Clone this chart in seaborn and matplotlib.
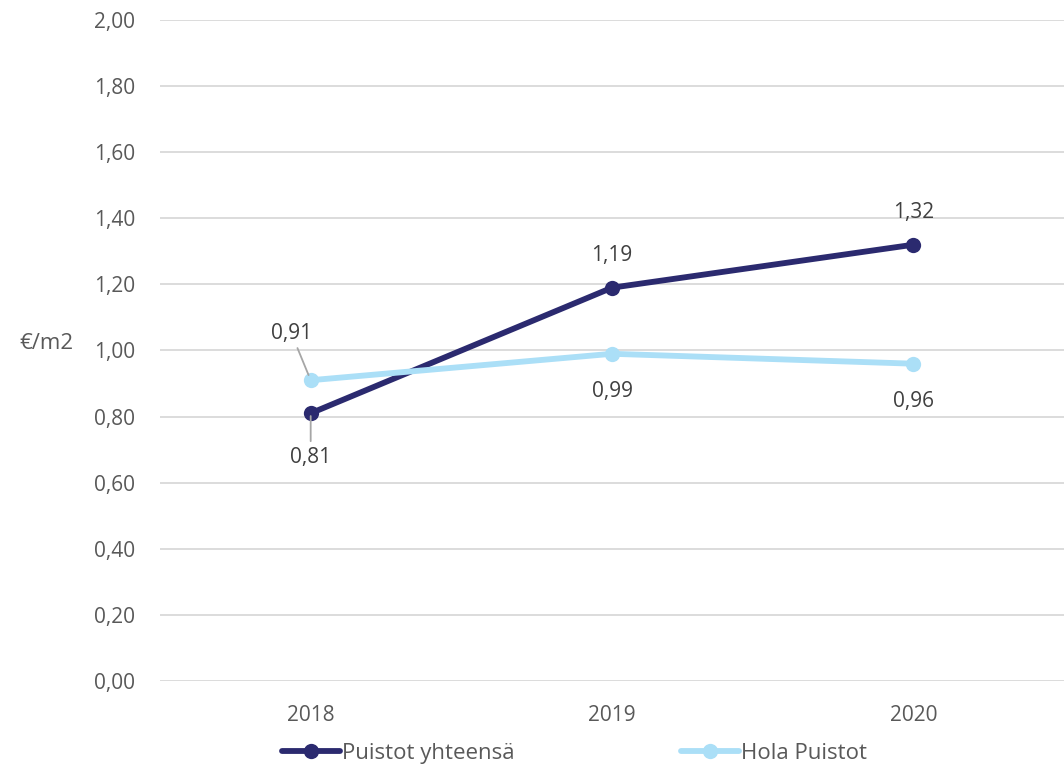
import pandas as pd
import seaborn as sns
import matplotlib.pyplot as plt

years = ["2018", "2019", "2020"]
puistot_yht = [0.81, 1.19, 1.32]
hola_puistot = [0.91, 0.99, 0.96]
series_names = ["Puistot yhteensä", "Hola Puistot"]
y_ticks = [0.0, 0.2, 0.4, 0.6, 0.8, 1.0, 1.2, 1.4, 1.6, 1.8, 2.0]

df = pd.DataFrame({
    "year": years * 2,
    "value": puistot_yht + hola_puistot,
    "series": [series_names[0]] * 3 + [series_names[1]] * 3,
})

sns.set_style("white")
plt.rcParams["font.family"] = ["Open Sans", "DejaVu Sans"]
text_col = "#595959"
colors = {series_names[0]: "#2B2A6F", series_names[1]: "#ABDFF7"}

fig = plt.figure(figsize=(10.64, 7.68), dpi=100)
ax = fig.add_axes([0.1504, 0.1133, 0.8496, 0.8607])

sns.lineplot(data=df, x="year", y="value", hue="series", palette=colors,
             marker="o", markersize=11, markeredgewidth=0, linewidth=4.2,
             sort=False, ax=ax, legend=False, zorder=3)

ax.set_xlim(-0.5, 2.5)
ax.set_ylim(0, 2.0)
ax.set_yticks(y_ticks)
ax.set_yticklabels([f"{v:.2f}".replace(".", ",") for v in y_ticks])
ax.grid(axis="y", color="#D9D9D9", linewidth=1.3)
ax.grid(axis="x", visible=False)
for s in ax.spines.values():
    s.set_visible(False)
ax.tick_params(axis="both", length=0, labelsize=15, colors=text_col)
ax.tick_params(axis="x", pad=17)
ax.tick_params(axis="y", pad=18)
ax.set_xlabel("")
ax.set_ylabel("€/m2", rotation=0, fontsize=16, color=text_col)
ax.yaxis.set_label_coords(-0.126, 0.495)

def fmt(v):
    return f"{v:.2f}".replace(".", ",")

# data labels (first point has leader lines)
lab_kw = dict(fontsize=15, color="#404040", ha="center", va="center")
ax.annotate(fmt(puistot_yht[0]), xy=(0, puistot_yht[0]), xytext=(0, -32),
            textcoords="offset points", **lab_kw,
            arrowprops=dict(arrowstyle="-", color="#A6A6A6", lw=1.3, shrinkA=2, shrinkB=2))
ax.annotate(fmt(hola_puistot[0]), xy=(0, hola_puistot[0]), xytext=(-14, 34),
            textcoords="offset points", **lab_kw,
            arrowprops=dict(arrowstyle="-", color="#A6A6A6", lw=1.3, shrinkA=1, shrinkB=4))
for i in (1, 2):
    ax.annotate(fmt(puistot_yht[i]), xy=(i, puistot_yht[i]), xytext=(0, 23),
                textcoords="offset points", **lab_kw)
    ax.annotate(fmt(hola_puistot[i]), xy=(i, hola_puistot[i]), xytext=(0, -27),
                textcoords="offset points", **lab_kw)

# legend
handles = [plt.Line2D([], [], color=colors[n], lw=4.2, marker="o", markersize=11,
                      markeredgewidth=0) for n in series_names]
leg = fig.legend(handles, series_names, loc="lower center", ncol=2,
                 bbox_to_anchor=(0.54, -0.021), frameon=False, fontsize=16,
                 handlelength=2.6, handletextpad=0.1, columnspacing=7.5)
for t in leg.get_texts():
    t.set_color(text_col)

plt.savefig("out.png", dpi=100)
